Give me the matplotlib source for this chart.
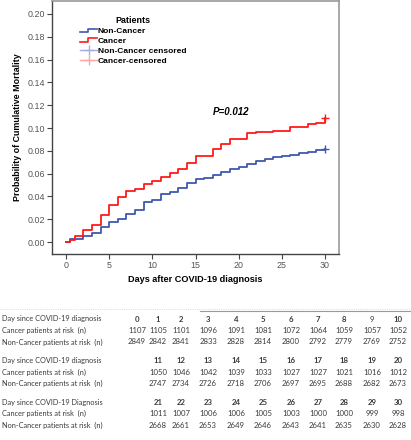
import matplotlib
matplotlib.use('Agg')
import matplotlib.pyplot as plt
from matplotlib.lines import Line2D
from matplotlib.legend_handler import HandlerBase

# cumulative mortality (step times in days)
cancer_days = [0.5, 1, 2, 3, 4, 5, 6, 7, 8, 9, 10, 11, 12, 13, 14, 15,
               17, 18, 19, 21, 22, 24, 26, 28, 29, 30]
cancer_mort = [0.0022, 0.0052, 0.0104, 0.0150, 0.0240, 0.0325, 0.0399, 0.0446,
               0.0466, 0.0510, 0.0532, 0.0568, 0.0607, 0.0637, 0.0693, 0.0755,
               0.0817, 0.0860, 0.0903, 0.0953, 0.0962, 0.0977, 0.1013, 0.1032,
               0.1046, 0.1090]

noncancer_days = [0.5, 1, 2, 3, 4, 5, 6, 7, 8, 9, 10, 11, 12, 13, 14, 15,
                  16, 17, 18, 19, 20, 21, 22, 23, 24, 25, 26, 27, 28, 29, 30]
noncancer_mort = [0.0023, 0.0030, 0.0050, 0.0078, 0.0130, 0.0178, 0.0205,
                  0.0250, 0.0285, 0.0350, 0.0368, 0.0418, 0.0440, 0.0470,
                  0.0520, 0.0553, 0.0565, 0.0585, 0.0610, 0.0638, 0.0660,
                  0.0688, 0.0713, 0.0730, 0.0745, 0.0755, 0.0767, 0.0779,
                  0.0793, 0.0808, 0.0820]

# numbers at risk table
table_days = list(range(31))
cancer_at_risk = [1107, 1105, 1101, 1096, 1091, 1081, 1072, 1064, 1059, 1057, 1052,
                  1050, 1046, 1042, 1039, 1033, 1027, 1027, 1021, 1016, 1012,
                  1011, 1007, 1006, 1006, 1005, 1003, 1000, 1000, 999, 998]
noncancer_at_risk = [2849, 2842, 2841, 2833, 2828, 2814, 2800, 2792, 2779, 2769, 2752,
                     2747, 2734, 2726, 2718, 2706, 2697, 2695, 2688, 2682, 2673,
                     2668, 2661, 2653, 2649, 2646, 2643, 2641, 2635, 2630, 2628]
header_labels = ['Day since COVID-19 diagnosis', 'Day since COVID-19 diagnosis',
                 'Day since COVID-19 Diagnosis']
row_labels = ['Cancer patients at risk  (n)', 'Non-Cancer patients at risk  (n)']

BLUE = '#3f58b0'
RED = '#ff1a1a'
W, H = 411, 440

plt.rcParams['font.family'] = ['Liberation Sans', 'DejaVu Sans']

fig = plt.figure(figsize=(W / 100, H / 100), dpi=100)
ax = fig.add_axes([52 / W, 1 - 254 / H, (339 - 52) / W, (254 - 1) / H])


def steps(days, vals):
    return [0] + days, [0] + vals


x, y = steps(noncancer_days, noncancer_mort)
ax.step(x, y, where='post', color=BLUE, lw=1.3)
ax.plot(noncancer_days[-1], noncancer_mort[-1], '+', color=BLUE, ms=6, mew=1.0)
x, y = steps(cancer_days, cancer_mort)
ax.step(x, y, where='post', color=RED, lw=1.3)
ax.plot(cancer_days[-1], cancer_mort[-1], '+', color=RED, ms=6, mew=1.0)

ax.set_xlim(-1.62, 31.62)
ax.set_ylim(-0.0105, 0.2114)
ax.set_xticks(range(0, 31, 5))
ax.set_yticks([i * 0.02 for i in range(11)])
ax.set_yticklabels(['%.2f' % (i * 0.02) for i in range(11)])
ax.tick_params(labelsize=6.4, labelcolor='#555555', length=3.5, width=0.8,
               color='#444444', pad=1.5)
for s in ['left', 'bottom']:
    ax.spines[s].set_color('#444444')
    ax.spines[s].set_linewidth(1.0)
for s in ['top', 'right']:
    ax.spines[s].set_color('#999999')
    ax.spines[s].set_linewidth(1.2)

ax.set_xlabel('Days after COVID-19 diagnosis', fontsize=6.6, fontweight='bold',
              labelpad=4)
ax.set_ylabel('Probability of Cumulative Mortality', fontsize=6.4,
              fontweight='bold', labelpad=4)

ax.text(17.0, 0.114, 'P=0.012', fontsize=7, fontweight='bold', style='italic',
        va='center', ha='left')


class StepHandler(HandlerBase):
    def create_artists(self, legend, orig, xd, yd, width, height, fontsize, trans):
        xs = [xd, xd + width * 0.45, xd + width * 0.45, xd + width]
        ys = [yd + height * 0.2, yd + height * 0.2, yd + height * 0.8, yd + height * 0.8]
        ln = Line2D(xs, ys, color=orig.get_color(), lw=1.2)
        ln.set_transform(trans)
        return [ln]


handles = [Line2D([], [], color=BLUE), Line2D([], [], color=RED),
           Line2D([], [], color='#a6aee0', marker='+', ms=7, lw=1.0),
           Line2D([], [], color='#ffa6a6', marker='+', ms=7, lw=1.0)]
labels = ['Non-Cancer', 'Cancer', 'Non-Cancer censored', 'Cancer-censored']
leg = ax.legend(handles, labels, title='Patients', frameon=False,
                loc='upper left', bbox_to_anchor=(77 / W, 1 - 13 / H),
                bbox_transform=fig.transFigure,
                handler_map={handles[0]: StepHandler(), handles[1]: StepHandler()},
                prop={'weight': 'bold', 'size': 6}, handlelength=2.0,
                handletextpad=0.1, labelspacing=0.25, borderaxespad=0)
leg.get_title().set_fontweight('bold')
leg.get_title().set_fontsize(6.4)

# number-at-risk table
fig.add_artist(Line2D([0, 1], [1 - 308.5 / H] * 2, color='#cccccc', lw=0.6,
                      ls=':', transform=fig.transFigure))
fig.add_artist(Line2D([200 / W, 1], [1 - 311 / H] * 2, color='#999999', lw=0.8,
                      transform=fig.transFigure))

col_x = [137, 158, 181, 208, 236, 263, 291, 318, 344, 372, 398]
lfont = dict(family=['Lato', 'DejaVu Sans'], fontsize=5.3, color='#3a3a3a',
             va='center', ha='left')
nfont = dict(family=['Lato', 'DejaVu Sans'], fontsize=5.6, color='#3a3a3a',
             va='center', ha='center')
for b in range(3):
    y0 = 319 + b * 41.5
    fig.text(2 / W, 1 - y0 / H, header_labels[b], **lfont)
    fig.text(2 / W, 1 - (y0 + 11.5) / H, row_labels[0], **lfont)
    fig.text(2 / W, 1 - (y0 + 23) / H, row_labels[1], **lfont)
    idx = range(0, 11) if b == 0 else range(10 * b + 1, 10 * b + 11)
    for i in idx:
        c = col_x[i - 10 * b]
        fig.text(c / W, 1 - y0 / H, str(table_days[i]),
                 fontweight='normal' if i == 9 else 'bold', **nfont)
        fig.text(c / W, 1 - (y0 + 11.5) / H, str(cancer_at_risk[i]), **nfont)
        fig.text(c / W, 1 - (y0 + 23) / H, str(noncancer_at_risk[i]), **nfont)

fig.savefig('out.png', dpi=100)
